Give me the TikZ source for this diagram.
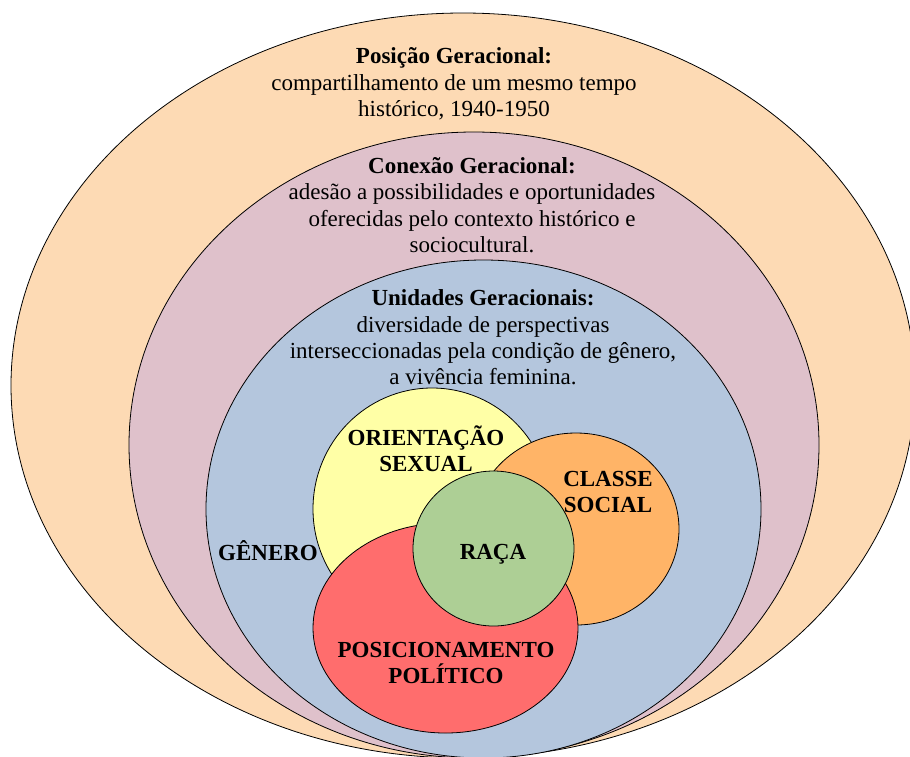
\documentclass[tikz,border=0pt]{standalone}
\usepackage{fontspec}
\setmainfont{Liberation Serif}
\definecolor{peach}{RGB}{253,218,180}
\definecolor{mauve}{RGB}{223,193,203}
\definecolor{steel}{RGB}{180,198,221}
\definecolor{lemon}{RGB}{255,255,166}
\definecolor{tangerine}{RGB}{255,180,103}
\definecolor{coral}{RGB}{255,109,109}
\definecolor{sage}{RGB}{173,207,149}
\begin{document}
\begin{tikzpicture}[x=1pt,y=-1pt,
  region/.style={draw=black,line width=0.8pt},
  txt/.style={align=center,font=\fontsize{23}{26.3}\selectfont,inner sep=0pt},
  lbl/.style={align=center,font=\fontsize{23}{26}\selectfont\bfseries,inner sep=0pt}]
\useasboundingbox (0,0) rectangle (910,756);
\clip (0,0) rectangle (910,756);
\fill[white] (0,0) rectangle (910,756);
% nested generational ellipses
\filldraw[region,fill=peach] (463,385.5) ellipse [x radius=452pt, y radius=372.5pt];
\filldraw[region,fill=mauve] (474,445) ellipse [x radius=345pt, y radius=313pt];
\filldraw[region,fill=steel] (483.5,509) ellipse [x radius=277.5pt, y radius=249pt];
% intersecting categories
\filldraw[region,fill=lemon] (432,509) ellipse [x radius=119pt, y radius=121pt];
\filldraw[region,fill=tangerine] (576,529) ellipse [x radius=103pt, y radius=96pt];
\filldraw[region,fill=coral] (445.5,628) ellipse [x radius=132.5pt, y radius=105pt];
\filldraw[region,fill=sage] (493.5,548.5) ellipse [x radius=80.5pt, y radius=77.5pt];
% texts
\node[txt] (pos) at (454,84) {\textbf{Posição Geracional:}\\compartilhamento de um mesmo tempo\\histórico, 1940-1950};
\node[txt] (con) at (472,205) {\textbf{Conexão Geracional:}\\adesão a possibilidades e oportunidades\\oferecidas pelo contexto histórico e\\sociocultural.};
\node[txt] (uni) at (483,337.5) {\textbf{Unidades Geracionais:}\\diversidade de perspectivas\\interseccionadas pela condição de gênero,\\a vivência feminina.};
\node[lbl] (ori) at (426,449) {ORIENTAÇÃO\\SEXUAL};
\node[lbl] (cla) at (608,492) {CLASSE\\SOCIAL};
\node[lbl] (rac) at (493,554) {RAÇA};
\node[lbl] (gen) at (268,551) {GÊNERO};
\node[lbl] (pol) at (446,663) {POSICIONAMENTO\\POLÍTICO};
\end{tikzpicture}
\end{document}
